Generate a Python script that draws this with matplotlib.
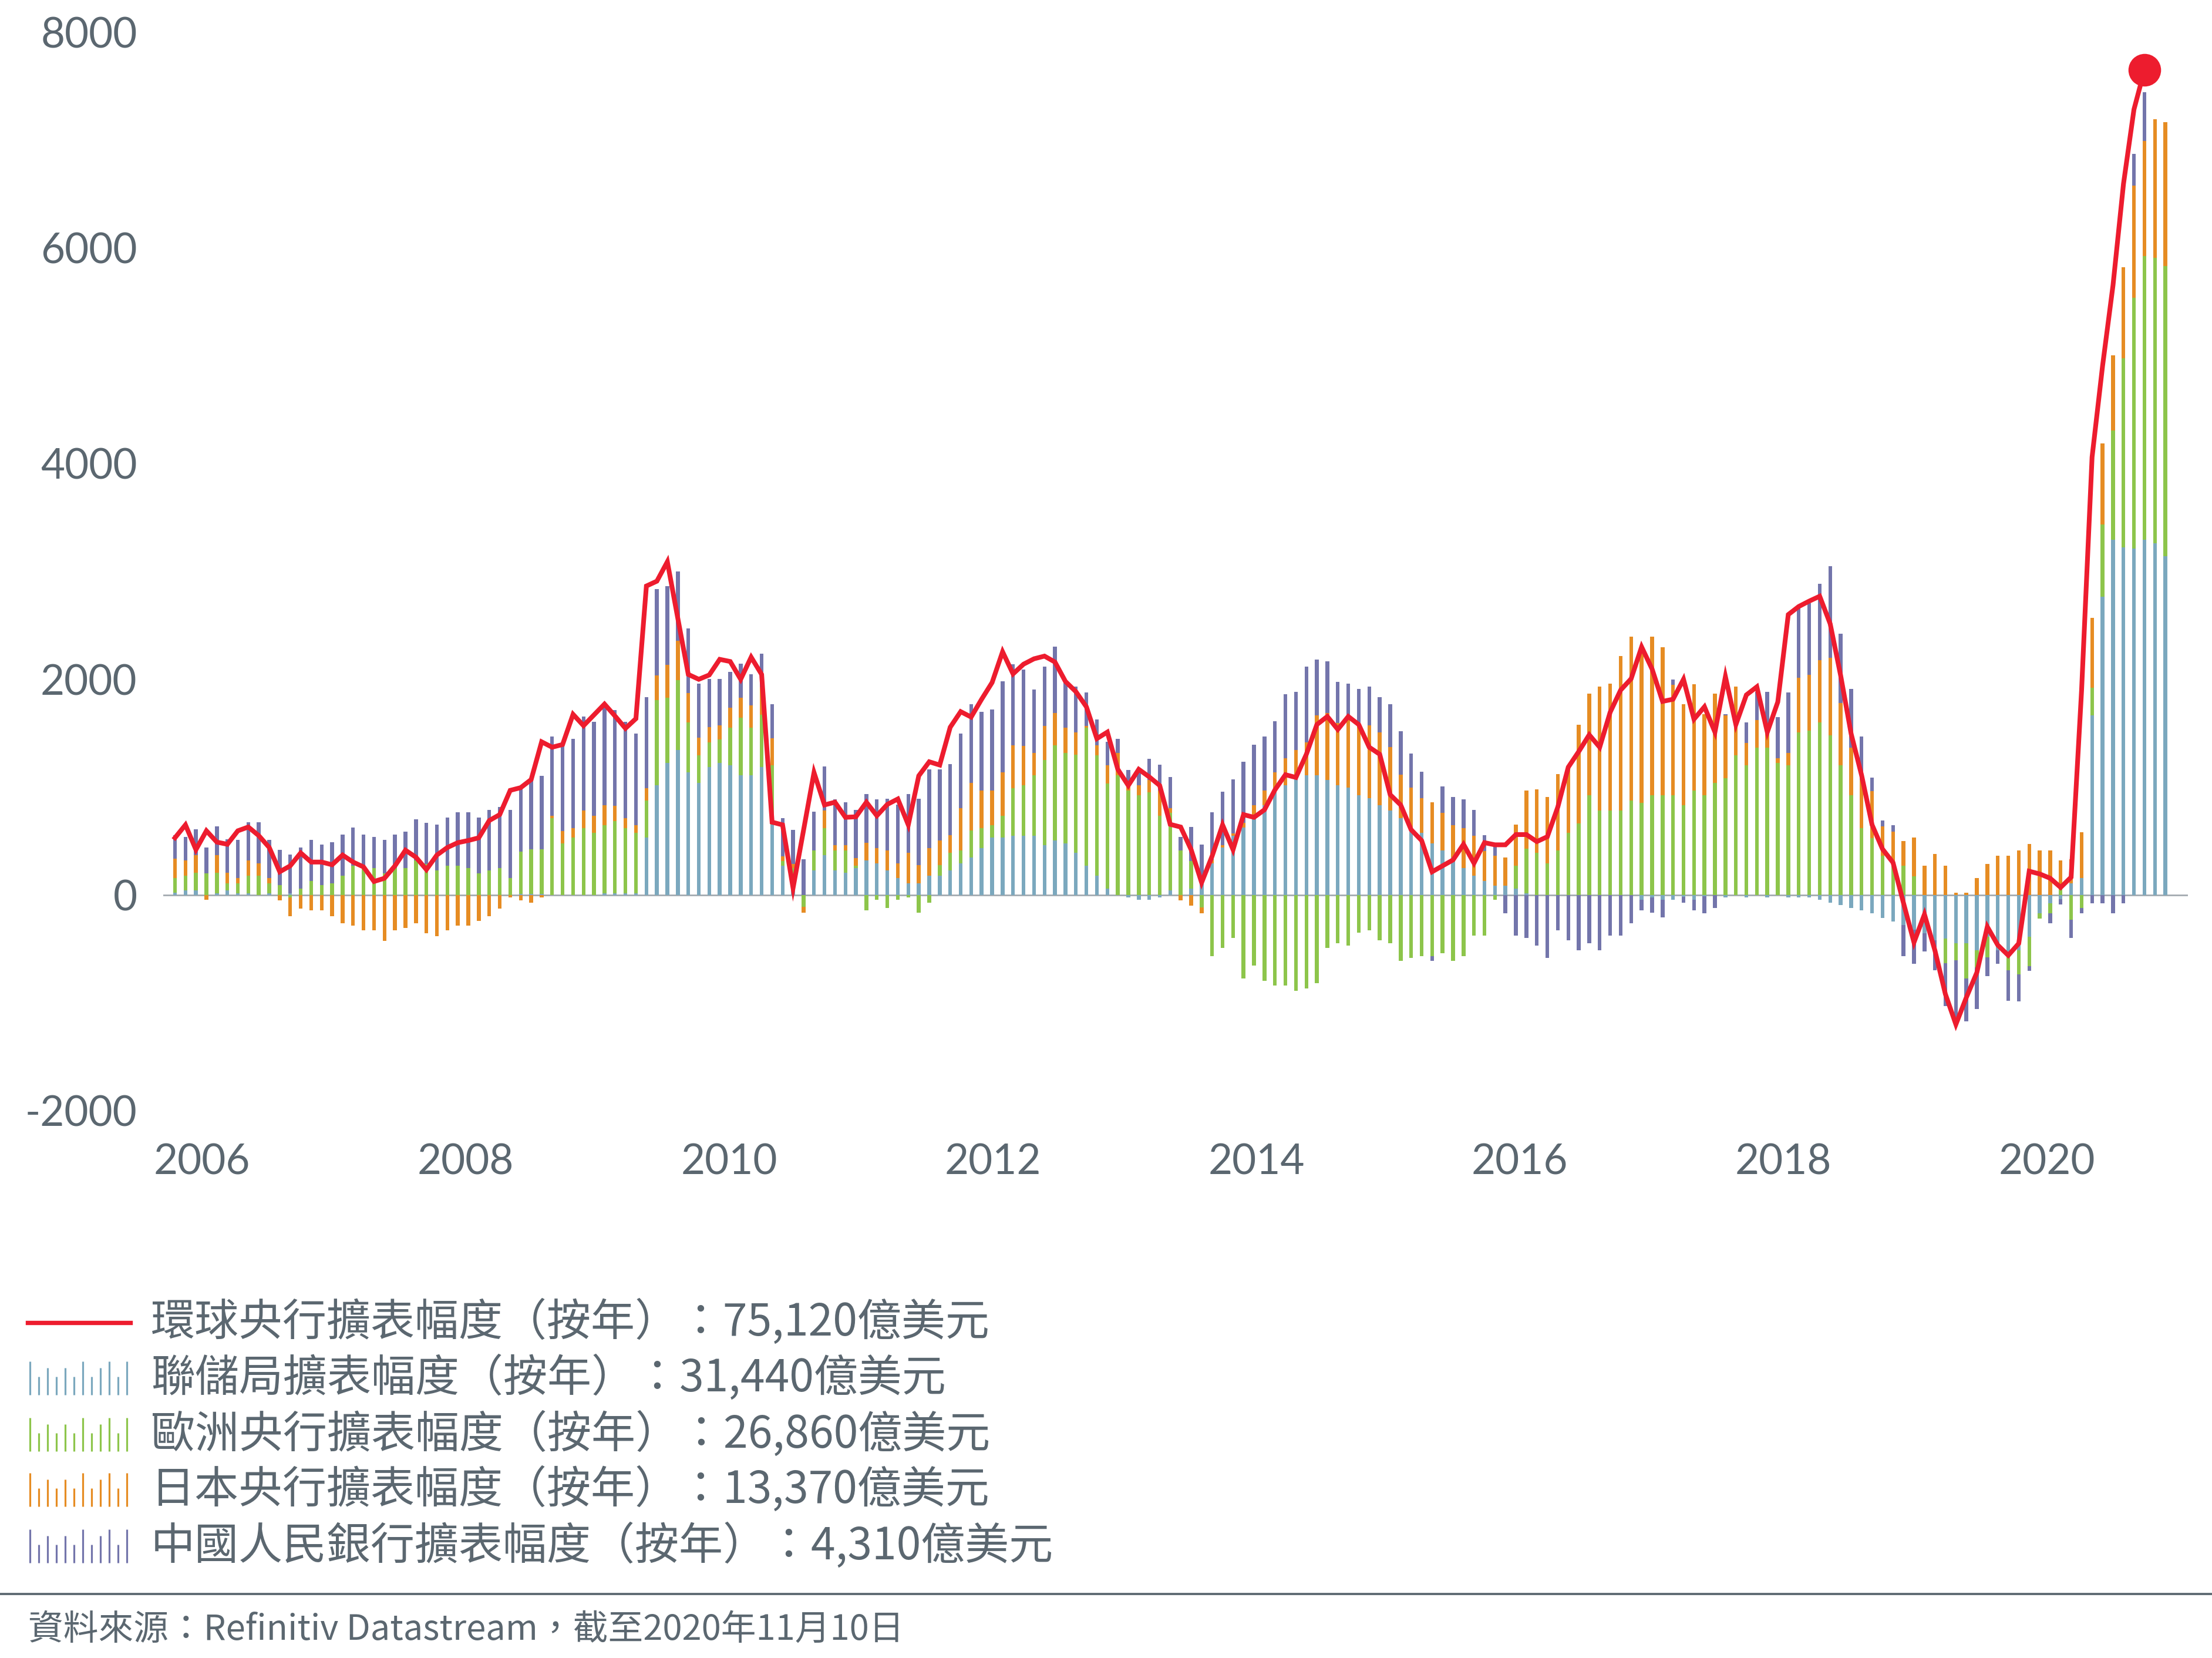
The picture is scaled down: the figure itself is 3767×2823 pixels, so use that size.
import numpy as np
import matplotlib
matplotlib.use("Agg")
import matplotlib.pyplot as plt
from matplotlib.lines import Line2D

# stacked components (USD 100m units as on chart), one value per bar
fed = [20, 40, 40, 0, 15, 40, 15, 15, 0, 15, 0, 15, 0, 0, 0, 0, 0, 0, 0, 0,
       0, 0, 0, 0, 0, 0, 0, 0, 0, 0, 0, 0, 0, 10, 10, 10, 0, 0, 0, 0,
       0, 15, 15, 15, 15, 530, 1015, 1225, 1345, 1135, 1040, 1185, 1225, 1205, 1110, 1110, 1185, 655, 270, 125,
       0, 225, 370, 225, 205, 250, 320, 295, 225, 155, 110, 110, 180, 180, 225, 295, 345, 435, 530, 530,
       550, 550, 550, 460, 505, 480, 390, 270, 180, 60, 0, -25, -45, -45, -25, 40, 0, 60, 125, 295,
       440, 550, 625, 715, 830, 970, 1015, 1090, 1110, 1110, 1065, 1015, 995, 925, 900, 830, 785, 715, 605, 575,
       480, 415, 345, 250, 180, 130, 85, 85, 60, 15, 0, 0, 0, 0, 0, 0, 0, 0, 0, 0,
       -45, -25, -45, -45, -20, -45, -10, 0, -25, 0, -25, 0, -25, 0, -25, -25, -25, -45, -70, -95,
       -120, -140, -170, -215, -245, -280, -325, -355, -420, -405, -450, -450, -515, -390, -515, -530, -515, -390, -170, -75,
       -40, 110, 155, 1665, 2765, 3295, 3225, 3215, 3295, 3260, 3144]
ecb = [135, 140, 165, 200, 190, 70, 95, 165, 180, 95, 90, -25, 60, 130, 90, 110, 180, 270, 250, 250,
       200, 250, 250, 320, 290, 225, 270, 270, 250, 200, 225, 250, 155, 390, 415, 415, 715, 480, 530, 620,
       575, 630, 670, 605, 560, 345, 790, 605, 650, 465, 255, 230, 215, 345, 535, 440, 485, 550, 45, 125,
       -110, 190, 250, 190, 210, 20, -140, -45, -120, -45, -25, -165, -70, 95, 165, 120, 255, 185, 115, 205,
       440, 465, 560, 790, 885, 835, 910, 1280, 1115, 975, 1110, 970, 925, 950, 735, 720, 415, 255, -115, -565,
       -490, -400, -775, -655, -795, -840, -840, -890, -865, -820, -490, -445, -470, -350, -330, -420, -445, -610, -585, -565,
       -565, -540, -610, -565, -375, -375, -45, 0, 210, 415, 390, 295, 415, 575, 665, 925, 785, 785, 785, 875,
       855, 925, 925, 925, 830, 970, 925, 1040, 1085, 1295, 1200, 1365, 1365, 1225, 1200, 1505, 1525, 1600, 1480, 1200,
       925, 620, 525, 365, 270, 270, 175, 0, 0, -230, -155, -325, -155, -190, 0, -170, -220, -270, -50, -95,
       50, -230, -120, 255, 670, 1010, 1750, 2325, 2630, 2650, 2686]
boj = [180, 140, 165, -45, 165, 95, 45, 140, 115, 45, -50, -170, -125, -145, -145, -195, -260, -285, -330, -330,
       -425, -330, -305, -260, -355, -380, -330, -285, -285, -240, -195, -125, -25, -50, -70, -25, 20, 115, 90, 165,
       160, 185, 140, 95, 70, 115, 230, 305, 365, 275, 165, 140, 135, 185, 185, 210, 255, 250, 45, 40,
       -55, 0, 165, 45, 45, 70, 165, 140, 190, 140, 280, 165, 255, 230, 165, 390, 440, 350, 325, 400,
       400, 370, 205, 320, 300, 235, 210, 20, 95, 165, 205, 45, 95, 115, 235, 45, -50, -100, -55, 30,
       20, 20, 45, 115, 140, 165, 255, 255, 305, 555, 625, 580, 650, 655, 675, 675, 585, 400, 390, 325,
       380, 345, 300, 370, 370, 280, 280, 265, 380, 540, 590, 615, 705, 630, 915, 940, 1150, 1175, 1430, 1520,
       1430, 1470, 1375, 1025, 940, 985, 750, 825, 580, 635, 210, 255, 210, 45, 115, 510, 515, 580, 720, 580,
       440, 445, 440, 270, 315, 230, 355, 270, 380, 270, 20, 20, 155, 290, 365, 365, 415, 475, 415, 415,
       270, 220, 425, 650, 750, 700, 845, 1040, 1070, 1285, 1337]
pboc = [220, 220, 240, 240, 265, 310, 355, 355, 380, 355, 330, 360, 380, 380, 380, 380, 380, 355, 310, 290,
        310, 310, 335, 380, 380, 425, 450, 495, 515, 520, 565, 565, 635, 600, 635, 680, 735, 780, 825, 870,
        870, 915, 890, 890, 850, 845, 800, 730, 640, 595, 500, 450, 430, 335, 315, 285, 310, 315, 355, 315,
        330, 355, 405, 425, 400, 450, 450, 450, 475, 545, 545, 615, 730, 660, 660, 690, 730, 730, 750, 845,
        750, 705, 590, 545, 615, 425, 425, 310, 240, 220, 130, 145, 115, 195, 240, 290, 125, 315, 340, 440,
        495, 500, 565, 565, 500, 475, 590, 540, 705, 520, 475, 380, 315, 330, 355, 330, 400, 405, 315, 245,
        -45, 245, 265, 265, 240, 145, 80, -170, -375, -400, -470, -585, -330, -420, -515, -445, -515, -375, -375, -260,
        -95, -140, -165, 50, -50, -95, -160, -120, 10, 0, 190, 265, 310, 380, 565, 645, 665, 705, 850, 640,
        545, 405, 125, 55, 60, -290, -315, -170, -280, -395, -530, -395, -390, -175, -125, -280, -250, -45, 0, -95,
        -50, -170, -50, -75, -75, -170, -75, 290, 450, np.nan, np.nan]
# global total (red line)
total = [530, 650, 420, 595, 490, 470, 595, 630, 550, 440, 215, 270, 390, 305, 305, 280, 370, 305, 260, 125,
         155, 270, 415, 350, 235, 370, 440, 485, 505, 530, 690, 745, 970, 995, 1070, 1420, 1370, 1395, 1675, 1570,
         1670, 1770, 1660, 1545, 1635, 2865, 2910, 3090, 2565, 2045, 2000, 2040, 2185, 2165, 2000, 2205, 2045, 675, 650, 65,
         600, 1135, 835, 860, 720, 725, 860, 735, 840, 890, 650, 1105, 1235, 1205, 1555, 1700, 1650, 1815, 1970, 2255,
         2050, 2140, 2190, 2215, 2160, 1980, 1885, 1745, 1450, 1510, 1165, 1015, 1165, 1095, 1015, 655, 630, 420, 115, 360,
         650, 420, 745, 720, 790, 975, 1115, 1090, 1305, 1580, 1655, 1535, 1655, 1580, 1370, 1305, 930, 835, 605, 505,
         215, 270, 325, 470, 295, 485, 465, 465, 560, 560, 495, 540, 815, 1185, 1330, 1485, 1370, 1695, 1900, 2005,
         2300, 2095, 1795, 1815, 2000, 1630, 1745, 1510, 2025, 1580, 1855, 1930, 1510, 1790, 2600, 2675, 2725, 2770, 2515, 2035,
         1495, 1110, 650, 425, 300, -75, -440, -180, -515, -920, -1200, -950, -720, -295, -465, -560, -450, 220, 195, 155,
         70, 165, 1900, 4060, 4905, 5655, 6595, 7285, 7650]

years = ["2006", "2008", "2010", "2012", "2014", "2016", "2018", "2020"]
y_ticks = [-2000, 0, 2000, 4000, 6000, 8000]

labels = [
    "環球央行擴表幅度（按年）：75,120億美元",
    "聯儲局擴表幅度（按年）：31,440億美元",
    "歐洲央行擴表幅度（按年）：26,860億美元",
    "日本央行擴表幅度（按年）：13,370億美元",
    "中國人民銀行擴表幅度（按年）：4,310億美元",
]
source = "資料來源：Refinitiv Datastream，截至2020年11月10日"

RED = "#ED1C2E"
colors = ["#7BA8BE", "#8DC54B", "#E68C23", "#7375AB"]
GREY = "#5B6770"
CJK = ["Noto Sans CJK TC", "DejaVu Sans"]

W, H = 3767, 2823
fig = plt.figure(figsize=(W / 100, H / 100), dpi=100)
ax = fig.add_axes([278 / W, 1 - 1891 / H, (3726 - 278) / W, (1891 - 55) / H])

x = np.arange(len(fed))
pos = np.zeros(len(x))
neg = np.zeros(len(x))
for vals, c in zip([fed, ecb, boj, pboc], colors):
    v = np.nan_to_num(np.array(vals, dtype=float))
    bottom = np.where(v >= 0, pos, neg)
    ax.bar(x, v, width=0.36, bottom=bottom, color=c, linewidth=0, zorder=2)
    pos += np.clip(v, 0, None)
    neg += np.clip(v, None, 0)

ax.axhline(0, color="#A3AAB0", lw=2, zorder=1)
xt = np.arange(len(total))
ax.plot(xt, total, color=RED, lw=5.8, solid_joinstyle="miter", zorder=4)
ax.plot(xt[-1], total[-1], "o", color=RED, ms=40, mew=0, zorder=5, clip_on=False)

ax.set_xlim(-1.12, 192.15)
ax.set_ylim(-2000, 8000)
ax.set_yticks(y_ticks)
ax.set_yticklabels([str(t) for t in y_ticks])
ax.set_xticks([2.58 + 25.16 * k for k in range(len(years))])
ax.set_xticklabels(years)
ax.tick_params(axis="both", length=0, labelsize=51, labelcolor=GREY)
ax.tick_params(axis="y", pad=32)
ax.tick_params(axis="x", pad=40)
for lab in ax.get_xticklabels() + ax.get_yticklabels():
    lab.set_family(["Lato", "DejaVu Sans"])
for s in ax.spines.values():
    s.set_visible(False)


def fx(px):
    return px / W


def fy(py):
    return 1 - py / H


# legend drawn by hand
rows = [2252, 2347, 2443, 2537, 2633]
fig.add_artist(Line2D([fx(47), fx(222)], [fy(rows[0])] * 2, color=RED, lw=5.3))
pattern = [1.0, 0.55, 0.8, 0.55, 0.8, 0.55, 1.0, 0.55, 0.8, 1.0, 0.55, 1.0]
for yc, c in zip(rows[1:], colors):
    for k, h in enumerate(pattern):
        xk = 51 + k * 15
        fig.add_artist(Line2D([fx(xk), fx(xk)], [fy(yc + 28), fy(yc + 28 - 57 * h)],
                              color=c, lw=2.3, solid_capstyle="butt"))
for yc, lab in zip(rows, labels):
    fig.text(fx(257), fy(yc), lab, ha="left", va="center", fontsize=54,
             color=GREY, family=CJK)

fig.add_artist(Line2D([0, 1], [fy(2714)] * 2, color=GREY, lw=2.7))
fig.text(fx(48), fy(2775), source, ha="left", va="center", fontsize=43,
         color=GREY, family=CJK)

fig.savefig("out.png", dpi=100)
plt.close(fig)
